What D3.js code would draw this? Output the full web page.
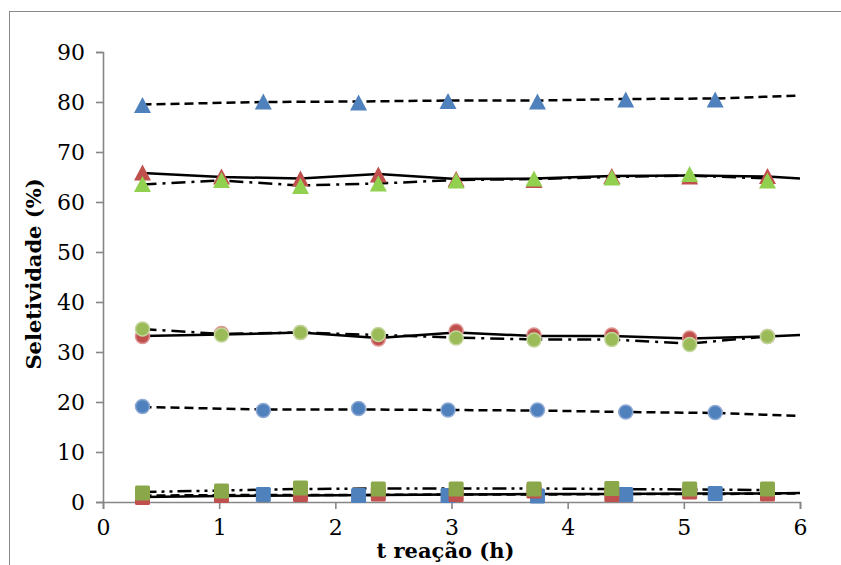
<!DOCTYPE html>
<html>
<head>
<meta charset="utf-8">
<script src="https://cdn.jsdelivr.net/npm/d3@7"></script>
<style>
  html, body { margin: 0; padding: 0; background: #fff; }
  svg { display: block; }
</style>
</head>
<body>
<svg id="chart" width="841" height="565"></svg>
<script>
// ---- data ----
const xTicks = [0, 1, 2, 3, 4, 5, 6];
const yTicks = [0, 10, 20, 30, 40, 50, 60, 70, 80, 90];

const tBlue = [0.34, 1.38, 2.2, 2.97, 3.74, 4.5, 5.27];
const tRG = [0.34, 1.02, 1.7, 2.37, 3.04, 3.71, 4.38, 5.05, 5.72];
const tBlueTrend = [0.34, 1.38, 2.2, 2.97, 3.74, 4.5, 5.27, 6];
const tRedTrend = [0.34, 1.02, 1.7, 2.37, 3.04, 3.71, 4.38, 5.05, 5.72, 6];

// triangles
const blueTri = [79.4, 80.1, 79.9, 80.2, 80.1, 80.5, 80.5];
const blueTriTrend = [79.5, 80.0, 80.1, 80.3, 80.3, 80.6, 80.7, 81.3];
const redTri = [65.9, 65.1, 64.7, 65.5, 64.6, 64.4, 65.2, 65.1, 65.2];
const redTriTrend = [65.8, 65.0, 64.7, 65.6, 64.6, 64.7, 65.2, 65.3, 65.1, 64.7];
const greenTri = [63.6, 64.4, 63.2, 63.7, 64.3, 64.7, 64.9, 65.6, 64.3];
const greenTriLine = [63.5, 64.3, 63.3, 63.7, 64.4, 64.6, 65.0, 65.3, 64.7];

// circles
const blueCirc = [19.1, 18.3, 18.7, 18.4, 18.4, 18.0, 17.9];
const blueCircTrend = [19.0, 18.5, 18.5, 18.4, 18.3, 18.0, 17.8, 17.2];
const redCirc = [33.1, 33.7, 33.9, 32.6, 34.2, 33.4, 33.4, 32.8, 33.1];
const redCircTrend = [33.2, 33.5, 33.9, 32.8, 33.9, 33.2, 33.2, 32.7, 33.1, 33.4];
const greenCirc = [34.6, 33.4, 33.9, 33.5, 32.8, 32.4, 32.5, 31.5, 33.1];
const greenCircLine = [34.6, 33.6, 33.9, 33.4, 32.9, 32.5, 32.5, 31.7, 33.1];

// squares
const blueSq = [1.4, 1.5, 1.3, 1.3, 1.2, 1.5, 1.7];
const blueSqTrend = [1.3, 1.4, 1.4, 1.5, 1.5, 1.6, 1.6, 1.7];
const redSq = [0.9, 1.3, 1.5, 1.6, 1.5, 2.2, 1.5, 2.0, 1.6];
const redSqTrend = [1.0, 1.2, 1.3, 1.4, 1.5, 1.6, 1.6, 1.7, 1.7, 1.8];
const greenSq = [1.8, 2.2, 2.8, 2.6, 2.6, 2.6, 2.7, 2.6, 2.6];
const greenSqLine = [2.0, 2.3, 2.6, 2.7, 2.7, 2.7, 2.6, 2.5, 2.4];

const xLabel = "t reação (h)";
const yLabel = "Seletividade (%)";

// ---- drawing ----
const svg = d3.select("#chart");
const axisColor = "#868686";
const font = "'DejaVu Serif', serif";

// outer frame
svg.append("rect").attr("x", 9.5).attr("y", 11.5).attr("width", 900).attr("height", 600)
  .attr("fill", "none").attr("stroke", "#8a8a8a").attr("stroke-width", 1);

const x = d3.scaleLinear().domain([0, 6]).range([103, 800]);
const y = d3.scaleLinear().domain([0, 90]).range([502, 52]);

// axes
const xAxis = svg.append("g").attr("transform", `translate(0,${y(0)})`)
  .call(d3.axisBottom(x).tickValues(xTicks).tickSize(7).tickPadding(10).tickFormat(d3.format("d")));
const yAxis = svg.append("g").attr("transform", `translate(${x(0)},0)`)
  .call(d3.axisLeft(y).tickValues(yTicks).tickSize(7).tickPadding(11).tickFormat(d3.format("d")));
[xAxis, yAxis].forEach(g => {
  g.select(".domain").attr("stroke", axisColor).attr("stroke-width", 1.6);
  g.selectAll(".tick line").attr("stroke", axisColor).attr("stroke-width", 1.6);
  g.selectAll(".tick text").attr("fill", "#000").style("font-family", font).style("font-size", "22px");
});
yAxis.selectAll(".tick text").attr("dy", "0.36em");

// axis titles
svg.append("text").attr("x", x(3) - 6).attr("y", 558).attr("text-anchor", "middle")
  .style("font-family", font).style("font-size", "21px").style("font-weight", "bold").text(xLabel);
svg.append("text").attr("transform", `translate(41,${274}) rotate(-90)`).attr("text-anchor", "middle")
  .style("font-family", font).style("font-size", "21px").style("font-weight", "bold").text(yLabel);

// lines
const line = d3.line().x(d => x(d[0])).y(d => y(d[1]));
const zip = (a, b) => a.map((v, i) => [v, b[i]]);
const lines = [
  { t: tBlueTrend, v: blueTriTrend, dash: "9,5" },
  { t: tRedTrend, v: redTriTrend, dash: null },
  { t: tRG, v: greenTriLine, dash: "14,6,3,6" },
  { t: tBlueTrend, v: blueCircTrend, dash: "9,5" },
  { t: tRedTrend, v: redCircTrend, dash: null },
  { t: tRG, v: greenCircLine, dash: "14,6,3,6" },
  { t: tBlueTrend, v: blueSqTrend, dash: "9,5" },
  { t: tRedTrend, v: redSqTrend, dash: null },
  { t: tRG, v: greenSqLine, dash: "14,5,3,5,3,5" }
];
svg.append("g").selectAll("path").data(lines).join("path")
  .attr("d", d => line(zip(d.t, d.v)))
  .attr("fill", "none").attr("stroke", "#000").attr("stroke-width", 2.5)
  .attr("stroke-dasharray", d => d.dash);

// markers
const triW = 17, triH = 16, sq = 15, rad = 7;
function triangles(t, v, fill) {
  svg.append("g").selectAll("path").data(zip(t, v)).join("path")
    .attr("d", d => {
      const cx = x(d[0]), cy = y(d[1]);
      return `M${cx},${cy - triH / 2}L${cx + triW / 2},${cy + triH / 2}L${cx - triW / 2},${cy + triH / 2}Z`;
    })
    .attr("fill", fill);
}
function circles(t, v, fill, stroke) {
  svg.append("g").selectAll("circle").data(zip(t, v)).join("circle")
    .attr("cx", d => x(d[0])).attr("cy", d => y(d[1])).attr("r", rad)
    .attr("fill", fill).attr("stroke", stroke).attr("stroke-width", 1.5);
}
function squares(t, v, fill) {
  svg.append("g").selectAll("rect").data(zip(t, v)).join("rect")
    .attr("x", d => x(d[0]) - sq / 2).attr("y", d => y(d[1]) - sq / 2)
    .attr("width", sq).attr("height", sq).attr("rx", 1.5)
    .attr("fill", fill);
}

squares(tBlue, blueSq, "#4F81BD");
squares(tRG, redSq, "#C0504D");
squares(tRG, greenSq, "#8AA84A");

circles(tBlue, blueCirc, "#4F81BD", "#8EA9D4");
circles(tRG, redCirc, "#C0504D", "#DE9593");
circles(tRG, greenCirc, "#9BBB59", "#C3D69B");

triangles(tBlue, blueTri, "#4F81BD");
triangles(tRG, redTri, "#C0504D");
triangles(tRG, greenTri, "#92D050");
</script>
</body>
</html>
